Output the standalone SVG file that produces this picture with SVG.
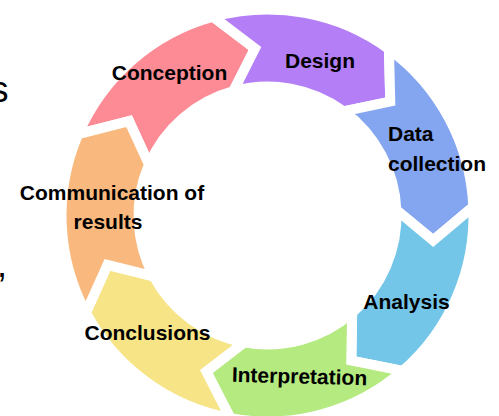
<svg xmlns="http://www.w3.org/2000/svg" width="499" height="416" viewBox="0 0 499 416">
  <style>
    .seg { stroke: #ffffff; stroke-width: 10; stroke-linejoin: miter; }
    .lbl { font-family: "Liberation Sans", Arial, sans-serif; font-weight: bold; font-size: 21px; fill: #000000; }
    .side { font-family: "Liberation Sans", Arial, sans-serif; font-size: 36px; fill: #000000; }
  </style>
  <rect width="499" height="416" fill="#ffffff"/>

  <!-- fragments of neighbouring text cut by the left edge -->
  <text class="side" x="-9.5" y="102">s</text>
  <text class="side" x="-3" y="277">,</text>

  <!-- seven chevron arcs around a common centre (267.5, 215.5) -->
  <g id="connectors"/>

  <g id="conception">
    <path class="seg" fill="#FC8B95" d="M78.26,134.11 A206,206 0 0 1 213.14,16.79 L254.94,48.47 L233.46,91.07 A129,129 0 0 0 148.99,164.53 L129.08,121.18 Z"/>
    <text class="lbl" x="169.5" y="80" text-anchor="middle">Conception</text>
  </g>

  <g id="design">
    <path class="seg" fill="#B47FF6" d="M213.14,16.79 A206,206 0 0 1 388.96,49.11 L390.26,101.54 L343.56,111.31 A129,129 0 0 0 233.46,91.07 L254.94,48.47 Z"/>
    <text class="lbl" x="320" y="68" text-anchor="middle">Design</text>
  </g>

  <g id="data-collection">
    <path class="seg" fill="#84A5EF" d="M388.96,49.11 A206,206 0 0 1 473.31,206.72 L433.14,240.42 L396.38,210.00 A129,129 0 0 0 343.56,111.31 L390.26,101.54 Z"/>
    <text class="lbl" x="388" y="141">Data</text>
    <text class="lbl" x="388" y="171">collection</text>
  </g>

  <g id="analysis">
    <path class="seg" fill="#74C6E9" d="M473.31,206.72 A206,206 0 0 1 402.69,370.94 L351.29,360.54 L352.15,312.84 A129,129 0 0 0 396.38,210.00 L433.14,240.42 Z"/>
    <text class="lbl" x="406.5" y="309" text-anchor="middle">Analysis</text>
  </g>

  <g id="interpretation">
    <path class="seg" fill="#B5EA80" d="M402.69,370.94 A206,206 0 0 1 230.27,418.11 L206.35,371.44 L244.18,342.38 A129,129 0 0 0 352.15,312.84 L351.29,360.54 Z"/>
    <text class="lbl" x="299.5" y="383.5" text-anchor="middle" transform="rotate(1.5 299.5 377)">Interpretation</text>
  </g>

  <g id="conclusions">
    <path class="seg" fill="#F7E486" d="M230.27,418.11 A206,206 0 0 1 85.88,312.71 L107.45,264.91 L153.77,276.37 A129,129 0 0 0 244.18,342.38 L206.35,371.44 Z"/>
    <text class="lbl" x="147.5" y="340" text-anchor="middle">Conclusions</text>
  </g>

  <g id="communication">
    <path class="seg" fill="#F9B97E" d="M85.88,312.71 A206,206 0 0 1 78.26,134.11 L129.08,121.18 L148.99,164.53 A129,129 0 0 0 153.77,276.37 L107.45,264.91 Z"/>
    <text class="lbl" x="112" y="200" text-anchor="middle">Communication of</text>
    <text class="lbl" x="108" y="229" text-anchor="middle">results</text>
  </g>
</svg>
